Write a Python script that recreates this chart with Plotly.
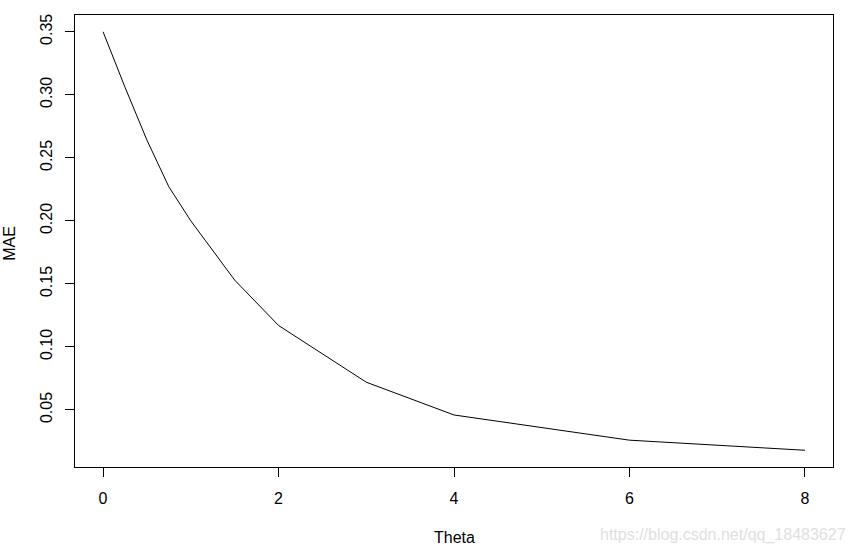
import plotly.graph_objects as go

theta = [0, 0.25, 0.5, 0.75, 1, 1.5, 2, 3, 4, 6, 8]
mae = [0.350, 0.306, 0.264, 0.227, 0.200, 0.153, 0.117, 0.072, 0.046, 0.026, 0.018]
x_ticks = [0, 2, 4, 6, 8]
y_ticks = [0.05, 0.10, 0.15, 0.20, 0.25, 0.30, 0.35]
y_tick_labels = ["0.05", "0.10", "0.15", "0.20", "0.25", "0.30", "0.35"]

FONT = "Liberation Sans, Arial, sans-serif"

fig = go.Figure(go.Scatter(x=theta, y=mae, mode="lines",
                           line=dict(color="black", width=1)))

fig.update_layout(
    width=858, height=549,
    margin=dict(l=75, r=25, t=15, b=82, autoexpand=False),
    paper_bgcolor="white", plot_bgcolor="white",
    showlegend=False,
    font=dict(family=FONT, size=16, color="black"),
)
fig.update_xaxes(
    range=[-0.32, 8.32], tickvals=x_ticks, ticks="outside", ticklen=9,
    tickfont=dict(size=16, family=FONT, color="black"), ticklabelstandoff=8,
    tickcolor="black", showline=True, linecolor="black", linewidth=1,
    mirror=True, showgrid=False, zeroline=False, automargin=False,
)
fig.update_yaxes(
    range=[0.00472, 0.3633], tickvals=y_ticks, ticktext=y_tick_labels,
    tickangle=-90, ticks="outside", ticklen=9,
    tickfont=dict(size=16, family=FONT, color="black"), ticklabelstandoff=7,
    tickcolor="black", showline=True, linecolor="black", linewidth=1,
    mirror=True, showgrid=False, zeroline=False, automargin=False,
)
# axis titles
fig.add_annotation(text="Theta", xref="paper", yref="paper", x=0.5, y=-0.155,
                   xanchor="center", yanchor="middle", showarrow=False,
                   font=dict(size=16, family=FONT, color="black"))
fig.add_annotation(text="MAE", xref="paper", yref="paper", x=-0.0858, y=0.496,
                   xanchor="center", yanchor="middle", textangle=-90, showarrow=False,
                   font=dict(size=16, family=FONT, color="black"))
fig.add_annotation(text="https://blog.csdn.net/qq_18483627", xref="paper", yref="paper",
                   x=1.0198, y=-0.150, xanchor="right", yanchor="middle", showarrow=False,
                   font=dict(size=16, color="#e0e0e0", family=FONT))
fig.write_html("out.html", config={"displayModeBar": False},
               post_script="document.body.style.margin='0';")
